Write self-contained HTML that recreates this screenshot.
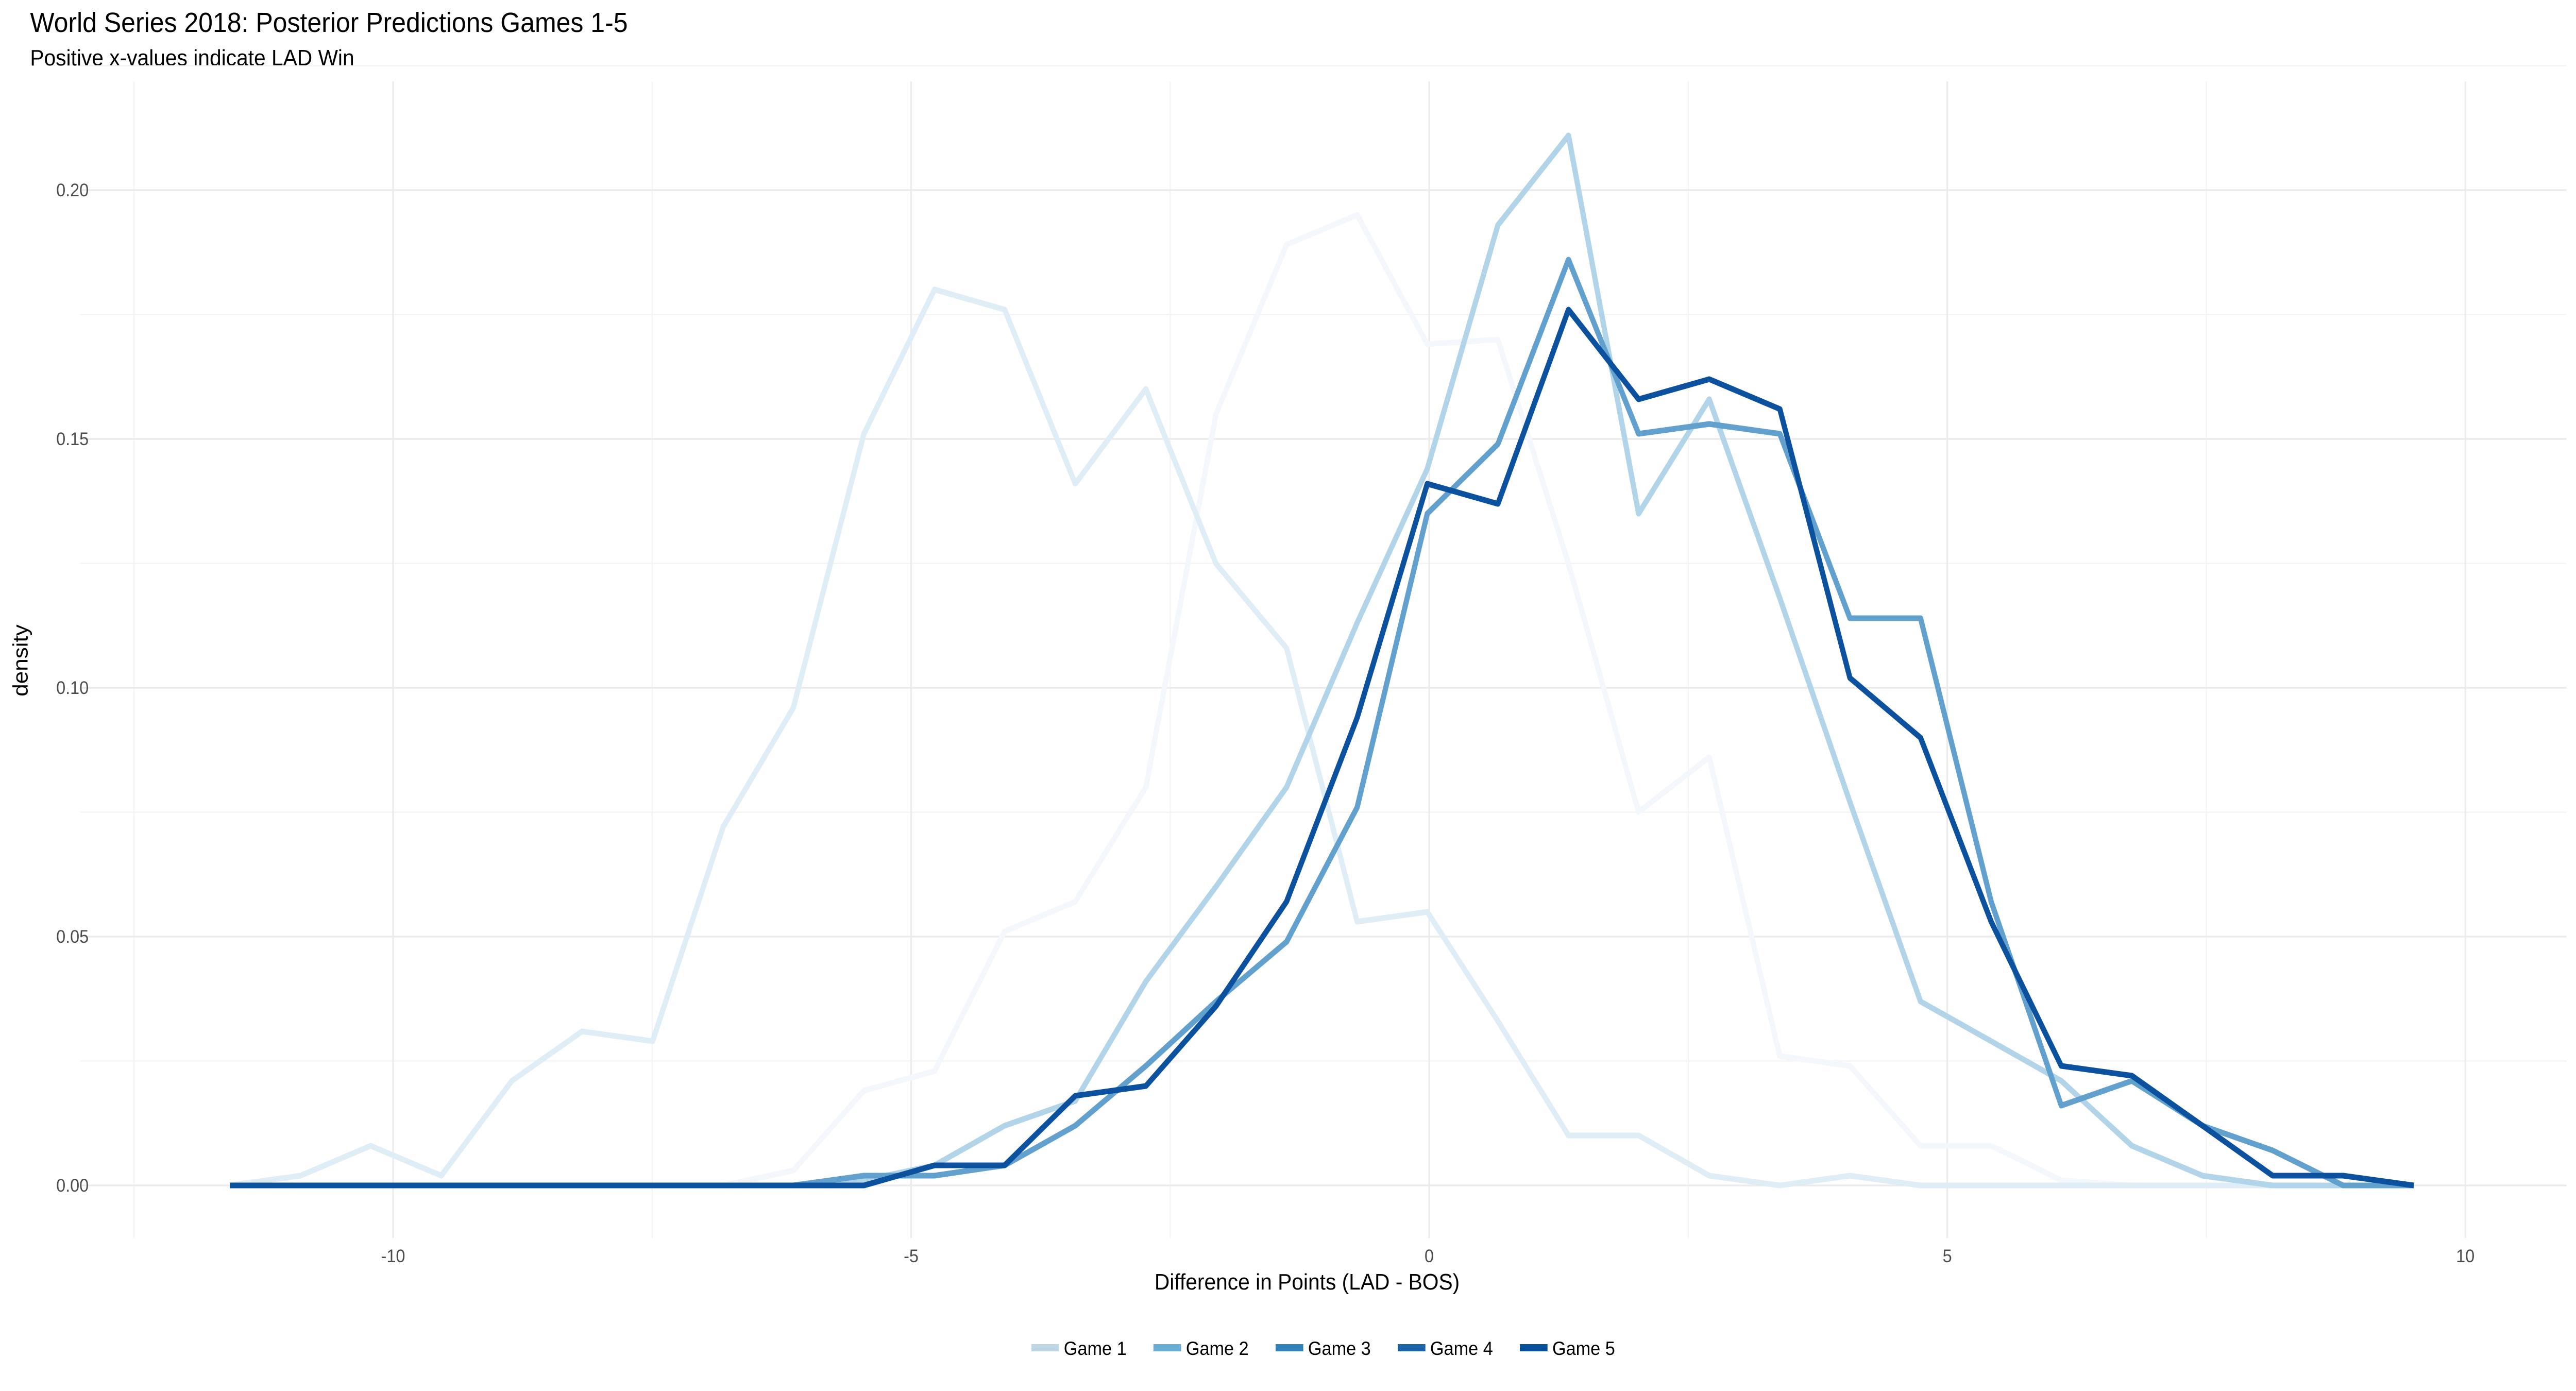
<!DOCTYPE html>
<html><head><meta charset="utf-8"><style>
html,body{margin:0;padding:0;background:#fff;width:100%;height:100%;overflow:hidden;}
svg{display:block;position:absolute;left:0;top:0;width:100vw;height:100vh;font-family:"Liberation Sans",Arial,sans-serif;}
</style></head><body>
<svg viewBox="0 0 5400 2700" preserveAspectRatio="none" xmlns="http://www.w3.org/2000/svg">
<rect width="5400" height="2700" fill="#fff"/>
<text x="63" y="62" font-size="54" fill="#000">World Series 2018: Posterior Predictions Games 1-5</text>
<text x="63" y="127" font-size="44" fill="#000">Positive x-values indicate LAD Win</text>
<g stroke="#f2f2f2" stroke-width="2">
<line x1="168" x2="5380" y1="2059.5" y2="2059.5"/>
<line x1="168" x2="5380" y1="1576.5" y2="1576.5"/>
<line x1="168" x2="5380" y1="1093.5" y2="1093.5"/>
<line x1="168" x2="5380" y1="610.5" y2="610.5"/>
<line x1="168" x2="5380" y1="127.5" y2="127.5"/>
<line y1="158" y2="2403" x1="281" x2="281"/>
<line y1="158" y2="2403" x1="1367" x2="1367"/>
<line y1="158" y2="2403" x1="2453" x2="2453"/>
<line y1="158" y2="2403" x1="3539" x2="3539"/>
<line y1="158" y2="2403" x1="4625" x2="4625"/>
</g>
<g stroke="#ebebeb" stroke-width="3.5">
<line x1="168" x2="5380" y1="2301" y2="2301"/>
<line x1="168" x2="5380" y1="1818" y2="1818"/>
<line x1="168" x2="5380" y1="1335" y2="1335"/>
<line x1="168" x2="5380" y1="852" y2="852"/>
<line x1="168" x2="5380" y1="369" y2="369"/>
<line y1="158" y2="2403" x1="824" x2="824"/>
<line y1="158" y2="2403" x1="1910" x2="1910"/>
<line y1="158" y2="2403" x1="2996" x2="2996"/>
<line y1="158" y2="2403" x1="4082" x2="4082"/>
<line y1="158" y2="2403" x1="5168" x2="5168"/>
</g>
<g font-size="35" fill="#4d4d4d" text-anchor="end">
<text x="186" y="2313">0.00</text>
<text x="186" y="1830">0.05</text>
<text x="186" y="1347">0.10</text>
<text x="186" y="864">0.15</text>
<text x="186" y="381">0.20</text>
</g>
<g font-size="35" fill="#4d4d4d" text-anchor="middle">
<text x="824" y="2450">-10</text>
<text x="1910" y="2450">-5</text>
<text x="2996" y="2450">0</text>
<text x="4082" y="2450">5</text>
<text x="5168" y="2450">10</text>
</g>
<text x="2740" y="2503" font-size="44" text-anchor="middle" fill="#000">Difference in Points (LAD - BOS)</text>
<text transform="translate(58,1282) rotate(-90)" font-size="44" text-anchor="middle" fill="#000">density</text>
<g fill="none" stroke-width="11" stroke-linejoin="round">
<polyline stroke="#f4f7fb" points="482,2301 630,2301 777,2301 925,2301 1073,2301 1220,2301 1368,2301 1516,2301 1663,2272 1811,2117 1959,2079 2106,1808 2254,1750 2402,1528 2549,804 2697,475 2845,417 2992,668 3140,659 3288,1094 3435,1576 3583,1470 3731,2050 3878,2069 4026,2224 4174,2224 4321,2291 4469,2301 4617,2301 4764,2301 4912,2301 5060,2301"/>
<polyline stroke="#dfeef6" points="482,2301 630,2282 777,2224 925,2282 1073,2098 1220,2002 1368,2021 1516,1605 1663,1374 1811,842 1959,562 2106,601 2254,939 2402,755 2549,1094 2697,1258 2845,1789 2992,1770 3140,1982 3288,2204 3435,2204 3583,2282 3731,2301 3878,2282 4026,2301 4174,2301 4321,2301 4469,2301 4617,2301 4764,2301 4912,2301 5060,2301"/>
<polyline stroke="#b2d4e8" points="482,2301 630,2301 777,2301 925,2301 1073,2301 1220,2301 1368,2301 1516,2301 1663,2301 1811,2291 1959,2262 2106,2185 2254,2137 2402,1905 2549,1721 2697,1528 2845,1209 2992,910 3140,437 3288,263 3435,997 3583,775 3731,1161 3878,1557 4026,1944 4174,2021 4321,2098 4469,2224 4617,2282 4764,2301 4912,2301 5060,2301"/>
<polyline stroke="#62a1ce" points="482,2301 630,2301 777,2301 925,2301 1073,2301 1220,2301 1368,2301 1516,2301 1663,2301 1811,2282 1959,2282 2106,2262 2254,2185 2402,2069 2549,1944 2697,1828 2845,1567 2992,997 3140,862 3288,504 3435,842 3583,823 3731,842 3878,1200 4026,1200 4174,1750 4321,2146 4469,2098 4617,2185 4764,2233 4912,2301 5060,2301"/>
<polyline stroke="#0c519d" points="482,2301 630,2301 777,2301 925,2301 1073,2301 1220,2301 1368,2301 1516,2301 1663,2301 1811,2301 1959,2262 2106,2262 2254,2127 2402,2108 2549,1953 2697,1750 2845,1393 2992,939 3140,978 3288,601 3435,775 3583,736 3731,794 3878,1316 4026,1432 4174,1789 4321,2069 4469,2088 4617,2185 4764,2282 4912,2282 5060,2301"/>
</g>
<g font-size="37" fill="#000">
<rect x="2162" y="2609" width="58" height="14" fill="#bdd7e7"/>
<text x="2230" y="2630">Game 1</text>
<rect x="2418" y="2609" width="58" height="14" fill="#6baed6"/>
<text x="2486" y="2630">Game 2</text>
<rect x="2674" y="2609" width="58" height="14" fill="#3182bd"/>
<text x="2742" y="2630">Game 3</text>
<rect x="2930" y="2609" width="58" height="14" fill="#1c64ab"/>
<text x="2998" y="2630">Game 4</text>
<rect x="3186" y="2609" width="58" height="14" fill="#08519c"/>
<text x="3254" y="2630">Game 5</text>
</g>
</svg>
</body></html>
